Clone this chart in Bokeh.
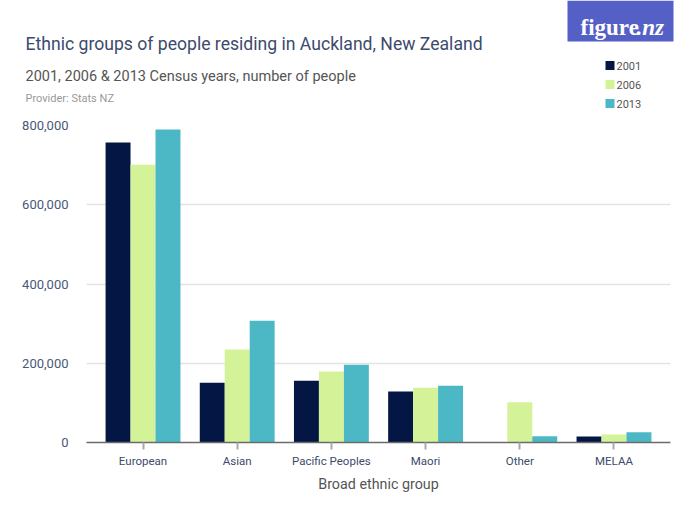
from bokeh.plotting import figure
from bokeh.layouts import column
from bokeh.models import (ColumnDataSource, FactorRange, Range1d,
                          NumeralTickFormatter, FixedTicker)
from bokeh.core.properties import value
from bokeh.transform import dodge
from bokeh.embed import file_html
from bokeh.resources import INLINE

categories = ["European", "Asian", "Pacific Peoples", "Maori", "Other", "MELAA"]
years = ["2001", "2006", "2013"]
v2001 = [757000, 151000, 156000, 128500, 600, 15000]
v2006 = [701000, 234500, 179000, 138000, 101500, 20000]
v2013 = [790000, 307500, 196500, 143500, 16000, 26000]
colors = ["#041643", "#d4f398", "#4db8c5"]
y_ticks = [0, 200000, 400000, 600000, 800000]
title = "Ethnic groups of people residing in Auckland, New Zealand"
subtitle = "2001, 2006 & 2013 Census years, number of people"
provider = "Provider: Stats NZ"
x_title = "Broad ethnic group"

FONT = "Roboto"
W = 684
HH = 113

# ---------- header figure (coordinates = pixels) ----------
h = figure(width=W, height=HH, output_backend="svg", toolbar_location=None,
           title=None, x_range=Range1d(0, W), y_range=Range1d(HH, 0),
           x_axis_location=None, y_axis_location=None, min_border=0)
h.frame_align = False
h.outline_line_color = None
h.xgrid.visible = False
h.ygrid.visible = False

h.text(x=[25], y=[43], text=[title], text_font=value(FONT), text_font_size="17.6px",
       text_color="#3c4a6c", text_baseline="alphabetic")
h.text(x=[25], y=[76], text=[subtitle], text_font=value(FONT), text_font_size="14.5px",
       text_color="#555555", text_baseline="alphabetic")
h.text(x=[25], y=[98], text=[provider], text_font=value(FONT), text_font_size="11px",
       text_color="#999999", text_baseline="alphabetic")

# logo
h.quad(left=[567], right=[673], top=[0], bottom=[41], fill_color="#5560c6", line_color=None)
h.text(x=[580], y=[27], text=["figure"], text_font=value("Liberation Serif"),
       text_font_style="bold", text_font_size="23px", text_color="white",
       text_baseline="alphabetic")
h.text(x=[636], y=[27], text=[".nz"], text_font=value("Liberation Serif"),
       text_font_style="bold italic", text_font_size="23px", text_color="white",
       text_baseline="alphabetic")

# legend
ly = [65, 84, 103]
h.rect(x=[609.5] * 3, y=ly, width=9, height=9, fill_color=colors, line_color=None)
h.text(x=[616] * 3, y=ly, text=years, text_font=value(FONT), text_font_size="11px",
       text_color="#555555", text_baseline="middle")

# ---------- main chart ----------
src = ColumnDataSource(dict(cat=categories, y2001=v2001, y2006=v2006, y2013=v2013))

p = figure(width=W, height=404, output_backend="svg", toolbar_location=None,
           title=None,
           x_range=FactorRange(factors=categories, range_padding=0.1,
                               range_padding_units="absolute"),
           y_range=Range1d(0, 800000),
           min_border_left=86, min_border_right=14, min_border_top=12,
           min_border_bottom=75)
p.frame_align = False
p.outline_line_color = None

bw = 0.265
cols = ["y2001", "y2006", "y2013"]
offs = [-bw, 0.0, bw]
for c, o, col in zip(cols, offs, colors):
    p.vbar(x=dodge("cat", o, range=p.x_range), top=c, width=bw, source=src,
           fill_color=col, line_color=None)

p.yaxis.ticker = FixedTicker(ticks=y_ticks)
p.yaxis.formatter = NumeralTickFormatter(format="0,0")
p.yaxis.axis_line_color = None
p.yaxis.major_tick_line_color = None
p.yaxis.minor_tick_line_color = None
p.yaxis.major_label_standoff = 12
p.yaxis.major_label_text_font = FONT
p.yaxis.major_label_text_font_size = "13px"
p.yaxis.major_label_text_color = "#4a5878"

p.xaxis.axis_line_color = "#6b6b6b"
p.xaxis.axis_line_width = 1.5
p.xaxis.major_tick_line_color = "#aaaaaa"
p.xaxis.major_tick_line_width = 2
p.xaxis.major_tick_out = 7
p.xaxis.major_tick_in = 0
p.xaxis.major_label_standoff = 4
p.xaxis.major_label_text_font = FONT
p.xaxis.major_label_text_font_size = "11.5px"
p.xaxis.major_label_text_color = "#3d4a6b"
p.xaxis.axis_label = x_title
p.xaxis.axis_label_text_font = FONT
p.xaxis.axis_label_text_font_size = "14.3px"
p.xaxis.axis_label_text_font_style = "normal"
p.xaxis.axis_label_text_color = "#555555"
p.xaxis.axis_label_standoff = 5

p.xgrid.grid_line_color = None
p.ygrid.grid_line_color = "#e3e3e3"
p.ygrid.grid_line_width = 1.5

layout = column(h, p, spacing=0)
open("out.html", "w").write(file_html(layout, INLINE))
